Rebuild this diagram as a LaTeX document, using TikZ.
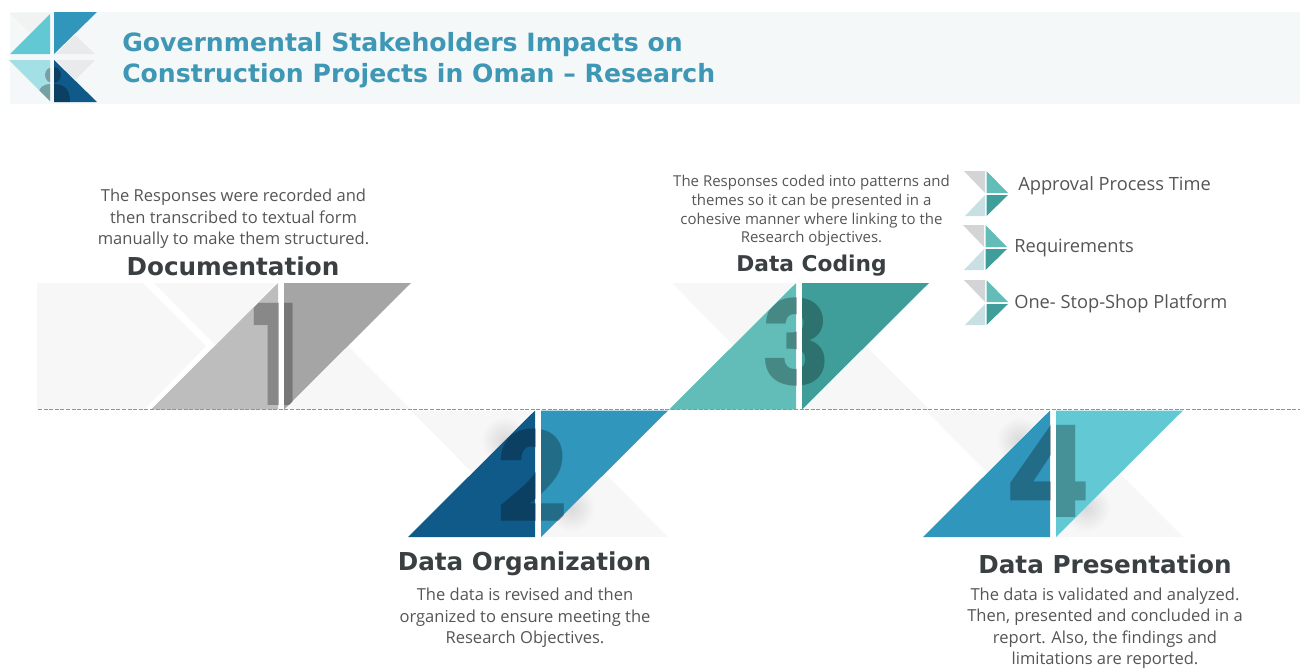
\documentclass[tikz,border=0pt]{standalone}
\usepackage{fontspec}
\setmainfont{Open Sans}
\newfontfamily\headfont[BoldFont={DejaVu Sans Bold}]{DejaVu Sans}
\newfontfamily\digitfont{Poppins}
\usetikzlibrary{shadings}
\definecolor{bandbg}{HTML}{F5F8F8}
\definecolor{headblue}{HTML}{3D97B5}
\definecolor{titlegrey}{HTML}{3A3F42}
\definecolor{bodygrey}{HTML}{555555}
\definecolor{ghost}{HTML}{F7F7F8}
\definecolor{logoa}{HTML}{62C8D3}
\definecolor{logob}{HTML}{3196BC}
\definecolor{logoc}{HTML}{A3E0E6}
\definecolor{logod}{HTML}{105A8A}
\definecolor{logog}{HTML}{E8EAEB}
\definecolor{tealA}{HTML}{62BDB8}
\definecolor{tealB}{HTML}{3F9E99}
\definecolor{iconG}{HTML}{D2D4D5}
\definecolor{iconL}{HTML}{C8E0E3}
\definecolor{grayA}{HTML}{BDBDBD}
\definecolor{grayB}{HTML}{A5A5A5}
\tikzset{
  bodytext/.style={text=bodygrey,align=center,inner sep=0pt,font=\fontsize{12.4pt}{16.1pt}\selectfont},
  smalltext/.style={text=bodygrey,align=center,inner sep=0pt,font=\fontsize{11.25pt}{14pt}\selectfont},
  listtext/.style={text=bodygrey,anchor=west,inner sep=0pt,font=\fontsize{13.7pt}{16pt}\selectfont},
  stagetitle/.style={text=titlegrey,inner sep=0pt,font=\headfont\bfseries\fontsize{18.5pt}{24pt}\selectfont},
  headtitle/.style={text=headblue,anchor=west,inner sep=0pt,font=\headfont\bfseries\fontsize{18.85pt}{23pt}\selectfont},
  bignum/.style={text=black,text opacity=0.28,inner sep=0pt}
}
% #1 x of gap, #2 y of top, #3 left colour, #4 right colour, #5 digit, #6 digit x, #7 digit y, #8 glow, #9 digit size
\newcommand{\stagemark}[9]{%
  \begin{scope}[shift={(#1,#2)}]
    \fill[ghost] (-124,0) -- (-2,0) -- (-62,63) -- cycle;
    \fill[ghost] (6,126.5) -- (70,63) -- (133,126.5) -- cycle;
    \ifnum#8=1
      \begin{scope}
        \clip (-124,0) -- (-2,0) -- (-62,63) -- cycle;
        \shade[inner color=gray!30,outer color=ghost] (-30,30) circle (24);
      \end{scope}
      \begin{scope}
        \clip (6,126.5) -- (70,63) -- (133,126.5) -- cycle;
        \shade[inner color=gray!30,outer color=ghost] (36,97) circle (24);
      \end{scope}
    \fi
    \fill[#3] (-127,126.5) -- (0,0) -- (0,126.5) -- cycle;
    \fill[#4] (6,0) -- (133,0) -- (6,126.5) -- cycle;
    \begin{scope}
      \clip (-127,126.5) -- (0,0) -- (0,126.5) -- cycle (6,0) -- (133,0) -- (6,126.5) -- cycle;
      \node[bignum,font=\digitfont\bfseries\fontsize{#9pt}{#9pt}\selectfont] (num#5) at (#6,#7) {#5};
    \end{scope}
  \end{scope}}
\newcommand{\chevicon}[2]{%
  \begin{scope}[shift={(#1,#2)}]
    \fill[iconG] (0,0) -- (21,0) -- (21,22) -- cycle;
    \fill[tealA] (22.5,0) -- (44,22) -- (22.5,22) -- cycle;
    \fill[tealB] (22.5,24) -- (44,24) -- (22.5,45) -- cycle;
    \fill[iconL] (1,45) -- (21,24) -- (21,45) -- cycle;
  \end{scope}}
\begin{document}
\begin{tikzpicture}[x=0.75pt,y=-0.75pt]
\useasboundingbox (0,0) rectangle (1300,668);
% header
\fill[bandbg] (10,12) rectangle (1300,104);
% logo
\fill[logog!60] (10,13) -- (50,13) -- (30,33) -- cycle;
\fill[logoa] (10,54) -- (50,14) -- (50,54) -- cycle;
\fill[logob] (54,12) -- (97,12) -- (54,54) -- cycle;
\fill[logog] (56,54) -- (95,54) -- (75,35) -- cycle;
\fill[logoc] (9,60) -- (50,60) -- (50,101) -- cycle;
\fill[logog] (56,60) -- (95,60) -- (75,80) -- cycle;
\fill[logod] (54,60) -- (97,102) -- (54,102) -- cycle;
\begin{scope}
  \clip (9,60) -- (50,60) -- (50,101) -- cycle (54,60) -- (97,102) -- (54,102) -- cycle;
  \fill[black,opacity=0.28] (53,75) circle (8);
  \fill[black,opacity=0.28] (37,102) .. controls (38,85) and (44,84) .. (52,84) .. controls (62,84) and (70,86) .. (70,102) -- cycle;
\end{scope}
\node[headtitle] (headA) at (122,44.5) {Governmental Stakeholders Impacts on};
\node[headtitle] (headB) at (122,75.5) {Construction Projects in Oman – Research};
% first stage back block
\fill[ghost] (37,283) -- (143,283) -- (206,346) -- (145,409) -- (37,409) -- cycle;
\stagemark{278}{283}{grayA}{grayB}{1}{-1.5}{71.5}{0}{105}
\stagemark{535}{410.5}{logod}{logob}{2}{-2.5}{65.5}{1}{94}
\stagemark{796}{283}{tealA}{tealB}{3}{-0.5}{59}{0}{88}
\stagemark{1050}{410.5}{logob}{logoa}{4}{-2.5}{60.5}{1}{96}
% baseline
\draw[gray!85,line width=1.3pt,dash pattern=on 3pt off 1.2pt] (38,409.5) -- (1300,409.5);
% stage titles
\node[stagetitle] (t1) at (233,266) {Documentation};
\node[stagetitle] (t2) at (524.5,564) {Data Organization};
\node[stagetitle,font=\headfont\bfseries\fontsize{16.3pt}{22pt}\selectfont] (t3) at (811.5,266) {Data Coding};
\node[stagetitle] (t4) at (1105,564) {Data Presentation};
% descriptions
\node[bodytext] (d1) at (233.5,219) {The Responses were recorded and\\then transcribed to textual form\\manually to make them structured.};
\node[smalltext] (d3) at (811.5,211) {The Responses coded into patterns and\\themes so it can be presented in a\\cohesive manner where linking to the\\Research objectives.};
\node[bodytext] (d2) at (525,618) {The data is revised and then\\organized to ensure meeting the\\Research Objectives.};
\node[bodytext] (d4) at (1105,628) {The data is validated and analyzed.\\Then, presented and concluded in a\\report. Also, the findings and\\limitations are reported.};
% list
\chevicon{964}{171}
\chevicon{963}{225}
\chevicon{964}{280}
\node[listtext] (l1) at (1018,186) {Approval Process Time};
\node[listtext] (l2) at (1014,248) {Requirements};
\node[listtext] (l3) at (1014,304) {One- Stop-Shop Platform};
\end{tikzpicture}
\end{document}
